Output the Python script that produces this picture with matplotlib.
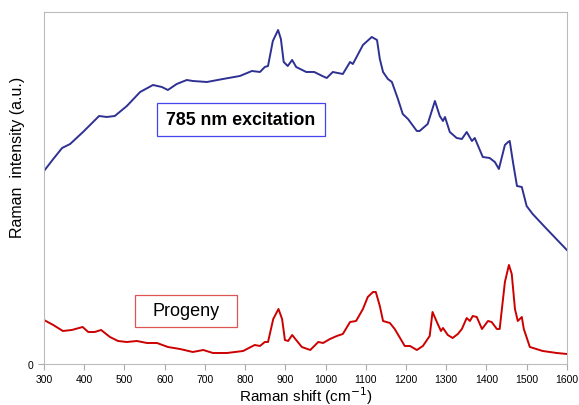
import matplotlib
matplotlib.use("Agg")
import matplotlib.pyplot as plt
from matplotlib.patches import Rectangle

plt.rcParams["font.family"] = ["Liberation Sans", "DejaVu Sans"]

# Spectra (arbitrary units)
shift_785 = [300, 323, 345, 365, 397, 437, 456, 476, 506, 539, 571, 593, 608, 630,
             655, 670, 705, 745, 787, 817, 837, 849, 857, 869, 882, 889, 896, 906,
             917, 927, 952, 972, 992, 1003, 1018, 1043, 1061, 1068, 1093, 1115, 1128,
             1135, 1143, 1155, 1165, 1180, 1192, 1205, 1227, 1234, 1254, 1272, 1284,
             1292, 1297, 1309, 1326, 1339, 1351, 1364, 1371, 1391, 1408, 1421, 1431,
             1446, 1454, 1458, 1466, 1476, 1488, 1500, 1515, 1550, 1600]
int_785 = [193, 205, 216, 220, 232, 248, 247, 248, 258, 272, 279, 277, 274, 280,
           284, 283, 282, 285, 288, 293, 292, 297, 298, 323, 334, 325, 302, 298,
           304, 297, 292, 292, 288, 286, 292, 290, 302, 300, 319, 327, 324,
           305, 292, 285, 282, 265, 250, 245, 233, 233, 240, 263, 248,
           243, 247, 232, 226, 225, 232, 223, 226, 207, 206, 202, 195,
           219, 222, 223, 202, 178, 177, 158, 150, 135, 114]

shift_prog = [300, 323, 347, 369, 396, 410, 426, 442, 464, 484, 506, 531, 556, 581,
              608, 638, 670, 696, 720, 755, 795, 824, 837, 849, 857, 870, 883, 892,
              899, 907, 917, 929, 941, 962, 982, 994, 1011, 1028, 1043, 1061, 1076,
              1093, 1105, 1118, 1125, 1135, 1143, 1160, 1172, 1197, 1210, 1227, 1242,
              1259, 1266, 1279, 1287, 1292, 1304, 1316, 1329, 1339, 1351, 1359, 1366,
              1376, 1389, 1404, 1413, 1426, 1433, 1446, 1456, 1463, 1471, 1478, 1488,
              1493, 1508, 1540, 1575, 1600]
int_prog = [44, 39, 33, 34, 37, 32, 32, 34, 27, 23, 22, 23, 21, 21,
            17, 15, 12, 14, 11, 11, 13, 19, 18, 22, 22, 45, 55, 45,
            24, 23, 29, 23, 17, 14, 22, 21, 25, 28, 30, 42, 43,
            55, 67, 72, 72, 58, 43, 41, 35, 18, 18, 14, 18,
            28, 52, 40, 33, 36, 29, 26, 30, 35, 46, 43, 48,
            47, 35, 43, 42, 35, 35, 82, 99, 90, 55, 43, 47,
            35, 17, 13, 11, 10]

x_ticks = list(range(300, 1700, 100))

fig = plt.figure(figsize=(5.79, 4.06), dpi=100)
ax = fig.add_axes([0.076, 0.101, 0.903, 0.867])

ax.plot(shift_785, int_785, color="#2E3192", lw=1.4)
ax.plot(shift_prog, int_prog, color="#CC0000", lw=1.4)

ax.set_xlim(300, 1600)
ax.set_ylim(0, 352)
ax.set_xticks(x_ticks)
ax.set_yticks([0])
ax.tick_params(labelsize=7.5, color="#AAAAAA", length=4, width=0.8)
for s in ax.spines.values():
    s.set_color("#BBBBBB")
    s.set_linewidth(0.8)

ax.set_xlabel("Raman shift (cm$^{-1}$)", fontsize=11, labelpad=0)
ax.set_ylabel("Raman  intensity (a.u.)", fontsize=11.5)
ax.yaxis.set_label_coords(-0.036, 0.59)

# annotation boxes
ax.add_patch(Rectangle((581, 228), 418, 33, fc="white", ec="#4444EE", lw=0.9, zorder=3))
ax.text(790, 244.5, "785 nm excitation", ha="center", va="center", fontsize=12.8,
        fontweight="bold", zorder=4)
ax.add_patch(Rectangle((526, 37), 254, 32, fc="white", ec="#DD5555", lw=0.9, zorder=3))
ax.text(653, 53, "Progeny", ha="center", va="center", fontsize=13, zorder=4)

fig.savefig("out.png", dpi=100)
